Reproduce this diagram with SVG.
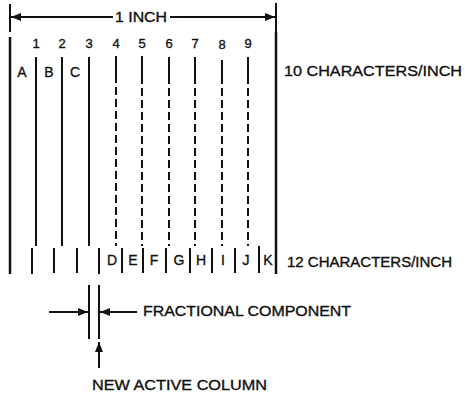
<svg xmlns="http://www.w3.org/2000/svg" width="465" height="395" viewBox="0 0 465 395">
<style>
text{font-family:"Liberation Sans",Arial,sans-serif;fill:#111;stroke:#111;stroke-width:0.35}
.lbl{font-size:14px}
.big{font-size:15.5px}
.num{font-size:13px;text-anchor:middle}
.let{font-size:14px;text-anchor:middle}
.ln{stroke:#111;stroke-width:2;fill:none}
.bd{stroke:#111;stroke-width:2.5;fill:none}
.ds{stroke:#111;stroke-width:2;fill:none;stroke-dasharray:8 4}
</style>
<defs>
<marker id="ah" markerWidth="10" markerHeight="8" refX="10" refY="4" orient="auto" markerUnits="userSpaceOnUse">
<path d="M0,0 L10,4 L0,8 Z" fill="#111"/>
</marker>
</defs>
<rect width="465" height="395" fill="#fff"/>
<g id="connectors">
<line class="ln" x1="10" y1="4" x2="10" y2="32"/>
<line class="ln" x1="276" y1="3" x2="276" y2="32"/>
<line class="ln" x1="113" y1="17" x2="11" y2="17" marker-end="url(#ah)"/>
<line class="ln" x1="170" y1="17" x2="275" y2="17" marker-end="url(#ah)"/>
<line class="bd" x1="10" y1="37" x2="10" y2="274"/>
<line class="bd" x1="276" y1="32" x2="276" y2="274"/>
<line class="ln" x1="36" y1="57" x2="36" y2="246"/>
<line class="ln" x1="62" y1="57" x2="62" y2="246"/>
<line class="ln" x1="89" y1="57" x2="89" y2="246"/>
<g id="dashed">
<line class="ln" x1="116" y1="56" x2="116" y2="83"/><line class="ds" x1="116" y1="87" x2="116" y2="246"/>
<line class="ln" x1="142" y1="56" x2="142" y2="84"/><line class="ds" x1="142" y1="88" x2="142" y2="246"/>
<line class="ln" x1="169" y1="57" x2="169" y2="84"/><line class="ds" x1="169" y1="88" x2="169" y2="246"/>
<line class="ln" x1="195" y1="57" x2="195" y2="84"/><line class="ds" x1="195" y1="88" x2="195" y2="246"/>
<line class="ln" x1="222" y1="60" x2="222" y2="84"/><line class="ds" x1="222" y1="88" x2="222" y2="246"/>
<line class="ln" x1="248" y1="57" x2="248" y2="84"/><line class="ds" x1="248" y1="88" x2="248" y2="246"/>
</g>
<g id="cpi12">
<line class="ln" x1="32" y1="248" x2="32" y2="274"/>
<line class="ln" x1="54" y1="248" x2="54" y2="273"/>
<line class="ln" x1="77" y1="248" x2="77" y2="273"/>
<line class="ln" x1="99" y1="248" x2="99" y2="274"/>
<line class="ln" x1="122" y1="248" x2="122" y2="273"/>
<line class="ln" x1="143" y1="248" x2="143" y2="273"/>
<line class="ln" x1="166" y1="248" x2="166" y2="273"/>
<line class="ln" x1="190" y1="248" x2="190" y2="273"/>
<line class="ln" x1="212" y1="248" x2="212" y2="273"/>
<line class="ln" x1="235" y1="248" x2="235" y2="273"/>
<line class="ln" x1="259" y1="246" x2="259" y2="273"/>
</g>
<line class="ln" x1="89" y1="285" x2="89" y2="339"/>
<line class="ln" x1="99" y1="285" x2="99" y2="339"/>
<line class="ln" x1="49" y1="312" x2="88" y2="312" marker-end="url(#ah)"/>
<line class="ln" x1="137" y1="312" x2="100" y2="312" marker-end="url(#ah)"/>
<line class="ln" x1="99" y1="368" x2="99" y2="342" marker-end="url(#ah)"/>
</g>
<g id="label-inch"><text class="lbl" x="115" y="22" textLength="52" lengthAdjust="spacingAndGlyphs">1 INCH</text></g>
<g id="numbers">
<text class="num" x="36" y="48">1</text>
<text class="num" x="62" y="48">2</text>
<text class="num" x="89" y="48">3</text>
<text class="num" x="116" y="48">4</text>
<text class="num" x="142" y="48">5</text>
<text class="num" x="169" y="48">6</text>
<text class="num" x="195" y="48">7</text>
<text class="num" x="222" y="49">8</text>
<text class="num" x="248" y="48">9</text>
</g>
<g id="letters10">
<text class="let" x="22" y="77">A</text>
<text class="let" x="49" y="77">B</text>
<text class="let" x="75" y="77">C</text>
</g>
<g id="letters12">
<text class="let" x="112" y="265">D</text>
<text class="let" x="133" y="265">E</text>
<text class="let" x="154" y="265">F</text>
<text class="let" x="179" y="265">G</text>
<text class="let" x="201" y="265">H</text>
<text class="let" x="223" y="265">I</text>
<text class="let" x="246" y="265">J</text>
<text class="let" x="268" y="265">K</text>
</g>
<g id="label-10cpi"><text class="big" x="284" y="76" textLength="178" lengthAdjust="spacingAndGlyphs">10 CHARACTERS/INCH</text></g>
<g id="label-12cpi"><text class="lbl" x="287" y="267" textLength="165" lengthAdjust="spacingAndGlyphs">12 CHARACTERS/INCH</text></g>
<g id="label-frac"><text class="lbl" x="143" y="316" textLength="208" lengthAdjust="spacingAndGlyphs">FRACTIONAL COMPONENT</text></g>
<g id="label-new"><text class="lbl" x="92" y="390" textLength="175" lengthAdjust="spacingAndGlyphs">NEW ACTIVE COLUMN</text></g>
</svg>
